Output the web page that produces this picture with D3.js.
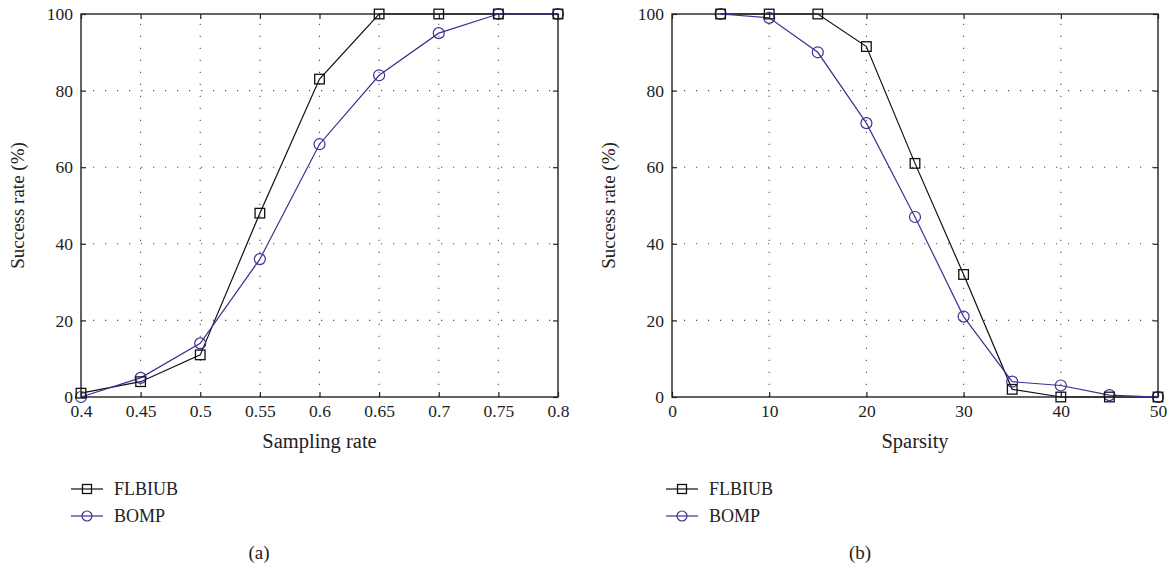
<!DOCTYPE html>
<html>
<head>
<meta charset="utf-8">
<script src="https://cdn.jsdelivr.net/npm/d3@7"></script>
<style>
  html, body { margin: 0; padding: 0; background: #fff; }
  svg { display: block; }
</style>
</head>
<body>
<svg id="chart" width="1174" height="569"></svg>
<script>
// Panel (a): success rate versus sampling rate
const samplingRates = [0.4, 0.45, 0.5, 0.55, 0.6, 0.65, 0.7, 0.75, 0.8];
const flbiubA = [1, 4, 11, 48, 83, 100, 100, 100, 100];
const bompA   = [0, 5, 14, 36, 66, 84, 95, 100, 100];
const xTicksA = [0.4, 0.45, 0.5, 0.55, 0.6, 0.65, 0.7, 0.75, 0.8];

// Panel (b): success rate versus sparsity
const sparsity = [5, 10, 15, 20, 25, 30, 35, 40, 45, 50];
const flbiubB = [100, 100, 100, 91.5, 61, 32, 2, 0, 0, 0];
const bompB   = [100, 99, 90, 71.5, 47, 21, 4, 3, 0.5, 0];
const xTicksB = [0, 10, 20, 30, 40, 50];

const yTicks = [0, 20, 40, 60, 80, 100];
const seriesNames = ["FLBIUB", "BOMP"];
const seriesColors = ["#111111", "#3a3193"];

const SERIF = '"Liberation Serif", "Times New Roman", Times, "DejaVu Serif", "Noto Serif", serif';
const textStyle = size => `font-family: ${SERIF}; font-size: ${size}px; fill: #222;`;

const svg = d3.select("#chart");

function panel(opts) {
  const { left, right, top, bottom, xDomain, xTicks, xs, ys, xLabel, tag, legendX, fmt } = opts;
  const x = d3.scaleLinear().domain(xDomain).range([left, right]);
  const y = d3.scaleLinear().domain([0, 100]).range([bottom, top]);
  const g = svg.append("g");

  // dotted grid
  const grid = g.append("g").attr("stroke", "#555").attr("stroke-width", 1.1)
    .attr("stroke-dasharray", "1.2,10.8");
  xTicks.slice(1, -1).forEach(t => {
    grid.append("line").attr("x1", x(t)).attr("x2", x(t)).attr("y1", bottom).attr("y2", top);
  });
  yTicks.slice(1, -1).forEach(t => {
    grid.append("line").attr("x1", left).attr("x2", right).attr("y1", y(t)).attr("y2", y(t));
  });

  // axes with inward ticks on all four sides
  const axStyle = sel => {
    sel.select(".domain").remove();
    sel.selectAll(".tick line").attr("stroke", "#222").attr("stroke-width", 1.2);
    sel.selectAll("text").attr("style", textStyle(17.5));
  };
  g.append("g").attr("transform", `translate(0,${bottom})`)
    .call(d3.axisBottom(x).tickValues(xTicks).tickSize(-5).tickPadding(8).tickFormat(fmt))
    .call(axStyle);
  g.append("g").attr("transform", `translate(0,${top})`)
    .call(d3.axisTop(x).tickValues(xTicks).tickSize(-5).tickFormat(""))
    .call(axStyle);
  g.append("g").attr("transform", `translate(${left},0)`)
    .call(d3.axisLeft(y).tickValues(yTicks).tickSize(-5).tickPadding(8))
    .call(axStyle);
  g.append("g").attr("transform", `translate(${right},0)`)
    .call(d3.axisRight(y).tickValues(yTicks).tickSize(-5).tickFormat(""))
    .call(axStyle);

  // frame
  g.append("rect").attr("x", left).attr("y", top)
    .attr("width", right - left).attr("height", bottom - top)
    .attr("fill", "none").attr("stroke", "#222").attr("stroke-width", 1.4);

  // series
  const line = d3.line().x(d => x(d[0])).y(d => y(d[1]));
  const data = [ys[0].map((v, i) => [xs[i], v]), ys[1].map((v, i) => [xs[i], v])];
  data.forEach((pts, si) => {
    g.append("path").datum(pts).attr("d", line)
      .attr("fill", "none").attr("stroke", seriesColors[si]).attr("stroke-width", 1.2);
  });
  // circles
  g.append("g").selectAll("circle").data(data[1]).join("circle")
    .attr("cx", d => x(d[0])).attr("cy", d => y(d[1])).attr("r", 5.5)
    .attr("fill", "none").attr("stroke", seriesColors[1]).attr("stroke-width", 1.2);
  // squares
  g.append("g").selectAll("rect").data(data[0]).join("rect")
    .attr("x", d => x(d[0]) - 4.8).attr("y", d => y(d[1]) - 4.8)
    .attr("width", 9.6).attr("height", 9.6)
    .attr("fill", "none").attr("stroke", seriesColors[0]).attr("stroke-width", 1.3);

  // axis titles
  g.append("text").attr("x", (left + right) / 2).attr("y", bottom + 51)
    .attr("text-anchor", "middle").attr("style", textStyle(20.5)).text(xLabel);
  g.append("text")
    .attr("transform", `translate(${left - 57},${(top + bottom) / 2}) rotate(-90)`)
    .attr("text-anchor", "middle").attr("style", textStyle(19)).text("Success rate (%)");

  // legend
  seriesNames.forEach((name, i) => {
    const ly = 489 + i * 27;
    const lg = g.append("g");
    lg.append("line").attr("x1", legendX).attr("x2", legendX + 32).attr("y1", ly).attr("y2", ly)
      .attr("stroke", seriesColors[i]).attr("stroke-width", 1.2);
    if (i === 0) {
      lg.append("rect").attr("x", legendX + 16 - 4.5).attr("y", ly - 4.5)
        .attr("width", 9).attr("height", 9).attr("fill", "none")
        .attr("stroke", seriesColors[0]).attr("stroke-width", 1.3);
    } else {
      lg.append("circle").attr("cx", legendX + 16).attr("cy", ly).attr("r", 5)
        .attr("fill", "none").attr("stroke", seriesColors[1]).attr("stroke-width", 1.2);
    }
    lg.append("text").attr("x", legendX + 43).attr("y", ly + 6)
      .attr("style", textStyle(18)).text(name);
  });

  // panel tag
  g.append("text").attr("x", opts.tagX).attr("y", 559)
    .attr("text-anchor", "middle").attr("style", textStyle(19)).text(tag);
}

panel({
  left: 81, right: 558, top: 14, bottom: 397,
  xDomain: [0.4, 0.8], xTicks: xTicksA, xs: samplingRates, ys: [flbiubA, bompA],
  xLabel: "Sampling rate", tag: "(a)", tagX: 259, legendX: 71,
  fmt: d => String(+d.toFixed(2))
});
panel({
  left: 672, right: 1158, top: 14, bottom: 397,
  xDomain: [0, 50], xTicks: xTicksB, xs: sparsity, ys: [flbiubB, bompB],
  xLabel: "Sparsity", tag: "(b)", tagX: 860, legendX: 666,
  fmt: d => String(d)
});
</script>
</body>
</html>
